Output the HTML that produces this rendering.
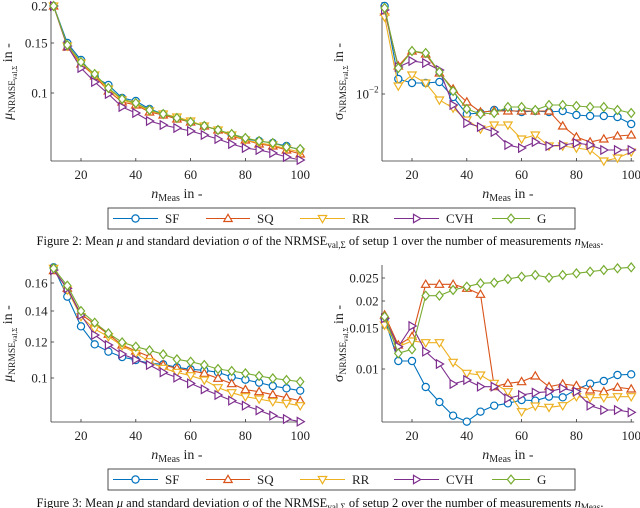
<!DOCTYPE html>
<html><head><meta charset="utf-8"><style>
body{margin:0;background:#fff;}
svg{display:block;font-family:"Liberation Serif",serif;}
</style></head><body>
<svg id="s" width="640" height="508" viewBox="0 0 640 508" xmlns="http://www.w3.org/2000/svg"></svg>
<script>
const S=document.getElementById('s');let h='';
const C={SF:'#0072BD',SQ:'#D95319',RR:'#EDB120',CVH:'#7E2F8E',G:'#77AC30'};
const N=['SF','SQ','RR','CVH','G'];
function mk(t,x,y,c){const r=3.6;
 if(t=='SF')return `<circle cx="${x}" cy="${y}" r="${r}" fill="#fff" stroke="${c}" stroke-width="1.2"/>`;
 let p;
 if(t=='SQ')p=[[x,y-r-0.6],[x+r+0.6,y+r-0.6],[x-r-0.6,y+r-0.6]];
 else if(t=='RR')p=[[x,y+r+0.6],[x+r+0.6,y-r+0.6],[x-r-0.6,y-r+0.6]];
 else if(t=='CVH')p=[[x+r+0.6,y],[x-r+0.6,y-r-0.6],[x-r+0.6,y+r+0.6]];
 else p=[[x,y-r-0.8],[x+r,y],[x,y+r+0.8],[x-r,y]];
 return `<polygon points="${p.map(q=>q.join(',')).join(' ')}" fill="#fff" stroke="${c}" stroke-width="1.2"/>`;}
function plot(ox,oyTop,bottom,data,ticks,ylab,yl){
 const X=n=>ox+(n-10)*2.74;
 h+=`<line x1="${ox-2.6}" y1="${oyTop}" x2="${ox-2.6}" y2="${bottom}" stroke="#333" stroke-width="0.8"/>`;
 h+=`<line x1="${ox-2.6}" y1="${bottom}" x2="${X(100)+3}" y2="${bottom}" stroke="#333" stroke-width="0.8"/>`;
 for(let n=20;n<=100;n+=20){h+=`<line x1="${X(n)}" y1="${bottom}" x2="${X(n)}" y2="${bottom-3}" stroke="#333" stroke-width="0.8"/><text x="${X(n)}" y="${bottom+18}" font-size="13" text-anchor="middle" fill="#222">${n}</text>`;}
 ticks.forEach(t=>{h+=`<line x1="${ox-2.6}" y1="${t[1]}" x2="${ox+0.5}" y2="${t[1]}" stroke="#333" stroke-width="0.8"/><text x="${ox-6}" y="${t[1]+4.5}" font-size="13" text-anchor="end" fill="#222">${t[0]}</text>`;});
 h+=`<text x="${X(55)}" y="${bottom+37}" font-size="14" text-anchor="middle" fill="#222"><tspan font-style="italic">n</tspan><tspan font-size="10" dy="3">Meas</tspan><tspan dy="-3"> in -</tspan></text>`;
 const cy=(oyTop+bottom)/2;
 h+=`<text transform="translate(${yl},${cy}) rotate(-90)" font-size="14" text-anchor="middle" fill="#222"><tspan font-style="${ylab=='μ'?'italic':'normal'}">${ylab}</tspan><tspan font-size="9.5" dy="3">NRMSE</tspan><tspan font-size="7" dy="2">val,Σ</tspan><tspan dy="-5"> in -</tspan></text>`;
 N.forEach(k=>{const v=data[k];const pts=v.map((y,i)=>[X(10+5*i),y]);
  h+=`<polyline points="${pts.map(p=>p.join(',')).join(' ')}" fill="none" stroke="${C[k]}" stroke-width="1.1"/>`;
  pts.forEach(p=>h+=mk(k,p[0],p[1],C[k]));});
}
function legend(y){
 h+=`<rect x="108" y="${y}" width="467" height="21" fill="#fff" stroke="#222" stroke-width="0.8"/>`;
 const L=[[113,158,'SF'],[206,250,'SQ'],[300,345,'RR'],[394,439,'CVH'],[492,530,'G']];
 L.forEach(l=>{const c=C[l[2]];const cy=y+10.5;
  h+=`<line x1="${l[0]}" y1="${cy}" x2="${l[1]}" y2="${cy}" stroke="${c}" stroke-width="1.1"/>`+mk(l[2],(l[0]+l[1])/2,cy,c)+`<text x="${l[1]+7}" y="${cy+4.5}" font-size="13" fill="#222">${l[2]}</text>`;});
}
const z=a=>a.map(v=>v/3+255);
plot(53.6,2,161,{
SF:[6,43,60,77,85,98,101,109,114,118,122,126,130,135,139,141,143,146,150],
SQ:[6,47,64,76,91,102,105,112,115,119,122,126,130,136,140,144,146,150,154],
RR:[6,46,63,75,89,100,104,111,114,117,121,126,130,135,140,143,145,149,152],
CVH:[6,46,68,82,94,107,113,121,125,128,131,135,139,144,148,150,153,157,160],
G:[6,45,62,74,88,99,103,110,114,118,122,126,130,134,138,141,143,147,149]},
[['0.2',6],['0.15',43],['0.1',93]],'μ',12);
plot(384.6,2,161,{
SF:[6,79,83,83,82,97,114,113,110,110,112,111,112,111,115,116,116,117,124],
SQ:[12,66,51,54,73,89,102,112,111,111,111,111,111,126,137,142,139,136,135],
RR:[17,86,75,83,100,108,120,129,125,125,139,135,146,146,148,150,161,158,152],
CVH:[10,67,61,63,70,105,123,127,132,145,148,142,146,145,143,145,150,150,150],
G:[8,68,51,53,72,91,109,114,113,107,107,110,105,105,106,107,107,110,113]},
[['10<tspan font-size="9" dy="-6">−2</tspan>',94]],'σ',343);
plot(53.6,265,422,{
SF:z([37,125,214,268,290,306,315,325,328,337,343,346,352,366,374,383,393,400,407]),
SQ:z([47,100,178,207,238,270,288,305,330,340,347,355,370,386,404,410,419,428,437]),
RR:z([40,105,185,222,245,272,295,320,340,352,362,375,398,413,425,432,440,445,452]),
CVH:z([45,100,180,240,270,297,314,330,352,368,385,403,420,437,452,466,482,492,500]),
G:z([40,92,168,203,235,262,275,286,298,313,320,330,342,348,355,363,370,375,380])},
[['0.16',283],['0.14',311],['0.12',342],['0.1',378]],'μ',12);
plot(384.6,265,422,{
SF:z([192,318,318,396,441,482,500,470,452,445,435,437,425,427,403,386,378,360,358]),
SQ:z([180,270,245,88,88,88,100,118,395,385,380,363,395,387,392,405,410,397,402]),
RR:z([210,275,258,263,263,322,355,360,385,410,470,453,457,452,425,428,428,425,425]),
CVH:z([190,275,213,290,327,387,375,395,395,430,420,413,410,400,410,452,465,465,472]),
G:z([185,295,283,122,122,105,95,85,83,72,65,60,68,60,55,50,45,40,37])},
[['0.025',278],['0.02',301],['0.015',328],['0.01',369]],'σ',343);
legend(208);legend(469);
h+=`<text x="320" y="245" font-size="12.5" text-anchor="middle" fill="#111">Figure 2: Mean <tspan font-style="italic">μ</tspan> and standard deviation σ of the NRMSE<tspan font-size="9" dy="3">val,Σ</tspan><tspan dy="-3"> of setup 1 over the number of measurements </tspan><tspan font-style="italic">n</tspan><tspan font-size="9" dy="3">Meas</tspan><tspan dy="-3">.</tspan></text>`;
h+=`<text x="320" y="507" font-size="12.5" text-anchor="middle" fill="#111">Figure 3: Mean <tspan font-style="italic">μ</tspan> and standard deviation σ of the NRMSE<tspan font-size="9" dy="3">val,Σ</tspan><tspan dy="-3"> of setup 2 over the number of measurements </tspan><tspan font-style="italic">n</tspan><tspan font-size="9" dy="3">Meas</tspan><tspan dy="-3">.</tspan></text>`;
S.innerHTML=h;
</script>
</body></html>
